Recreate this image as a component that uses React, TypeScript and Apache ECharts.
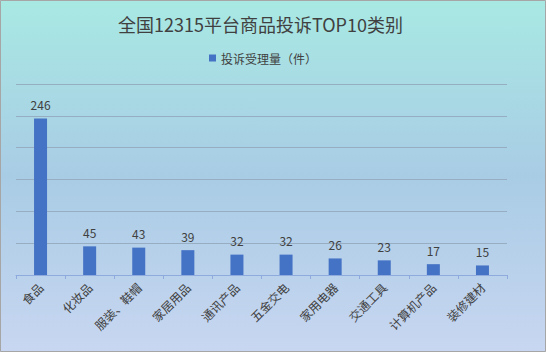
import React, { useEffect, useRef } from "react";
import * as echarts from "echarts";

const categories = ["食品", "化妆品", "服装、鞋帽", "家居用品", "通讯产品", "五金交电", "家用电器", "交通工具", "计算机产品", "装修建材"];
const values = [246, 45, 43, 39, 32, 32, 26, 23, 17, 15];
const seriesName = "投诉受理量（件）";
const titleText = "全国12315平台商品投诉TOP10类别";

export default function App() {
  const ref = useRef<HTMLDivElement>(null);
  useEffect(() => {
    document.body.style.margin = "0";
    const chart = echarts.init(ref.current!, null, { renderer: "svg" });
    const font = "'Noto Sans CJK SC', 'Microsoft YaHei', sans-serif";
    chart.setOption({
      animation: false,
      backgroundColor: new echarts.graphic.LinearGradient(0, 0, 0, 1, [
        { offset: 0, color: "#A8E9E3" },
        { offset: 0.5, color: "#A9CCE5" },
        { offset: 1, color: "#C8D6F1" },
      ]),
      textStyle: { fontFamily: font },
      title: {
        text: titleText,
        left: 113,
        top: 10,
        textStyle: { fontSize: 18, fontWeight: "normal", color: "#404040", fontFamily: font },
      },
      legend: {
        top: 47,
        left: 204,
        itemWidth: 7,
        itemHeight: 7,
        itemGap: 4,
        icon: "rect",
        textStyle: { fontSize: 12, color: "#404040", fontFamily: font },
        data: [seriesName],
      },
      grid: { left: 16, right: 39, top: 84, bottom: 77, containLabel: false },
      xAxis: {
        type: "category",
        data: categories,
        axisLine: { lineStyle: { color: "#8FAADC", width: 1 } },
        axisTick: { show: true, length: 4, lineStyle: { color: "#8FAADC" }, alignWithLabel: false },
        axisLabel: { rotate: 45, fontSize: 12, color: "#404040", margin: 10, interval: 0, fontFamily: font },
      },
      yAxis: {
        type: "value",
        min: 0,
        max: 300,
        interval: 50,
        axisLabel: { show: false },
        axisLine: { show: false },
        axisTick: { show: false },
        splitLine: { lineStyle: { color: "#97ADC2", width: 1 } },
      },
      series: [
        {
          name: seriesName,
          type: "bar",
          data: values,
          barWidth: 13,
          itemStyle: { color: "#4472C4" },
          label: { show: true, position: "top", distance: 8, fontSize: 12, color: "#404040", fontFamily: font },
        },
      ],
      graphic: [
        {
          type: "rect",
          shape: { x: 0.5, y: 0.5, width: 545, height: 351 },
          style: { fill: "none", stroke: "#A6A6A6", lineWidth: 1 },
          silent: true,
        },
      ],
    });
    return () => chart.dispose();
  }, []);
  return <div ref={ref} style={{ width: 546, height: 352 }} />;
}
